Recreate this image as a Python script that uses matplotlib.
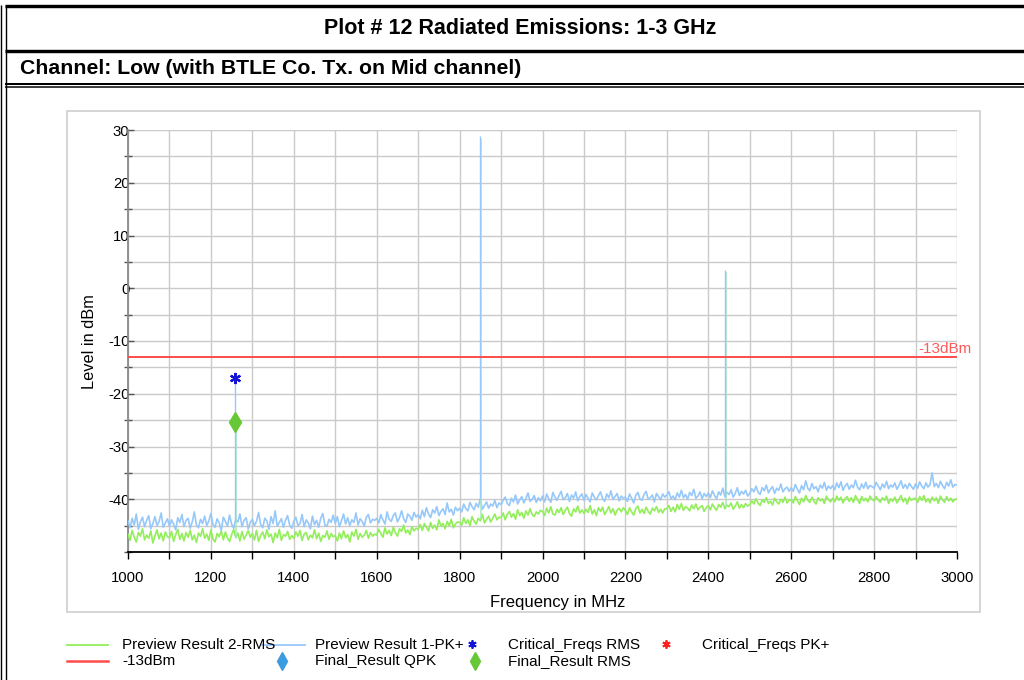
import numpy as np
import matplotlib
matplotlib.use('Agg')
import matplotlib.pyplot as plt
from matplotlib import font_manager
from matplotlib.patches import Rectangle
from matplotlib.ticker import MultipleLocator

# ---------------- data ----------------
title = "Plot # 12 Radiated Emissions: 1-3 GHz"
subtitle = "Channel: Low (with BTLE Co. Tx. on Mid channel)"
x_label = "Frequency in MHz"
y_label = "Level in dBm"
limit_label = "-13dBm"
limit_value = -13.0

freq_start, freq_stop, freq_step = 1000, 3000, 5

pk_values = [
    -44.1, -45.4, -43.6, -44.9, -42.8, -45.7, -44.3, -43.4, -45.2, -44.0, -43.1, -45.6, -44.6, -43.3, -45.0, -44.2, -42.6, -45.3, -44.5, -43.7,
    -45.1, -43.9, -44.7, -45.8, -43.5, -44.4, -42.9, -45.2, -44.0, -43.6, -45.5, -44.3, -42.4, -44.9, -45.4, -43.8, -44.6, -43.2, -45.0, -44.1,
    -42.7, -44.8, -45.3, -43.7, -44.5, -45.9, -43.4, -44.2, -45.1, -43.0, -44.7, -45.5, -43.9, -44.3, -42.8, -45.2, -44.0, -43.5, -45.6, -44.4,
    -43.8, -45.0, -44.2, -42.5, -44.8, -45.4, -43.6, -44.1, -45.7, -43.3, -44.6, -42.2, -45.1, -44.4, -43.7, -45.3, -44.0, -43.1, -44.9, -45.5,
    -44.2, -43.4, -45.0, -44.6, -42.9, -45.2, -43.9, -44.5, -45.6, -43.2, -44.8, -44.0, -45.3, -43.6, -42.7, -44.9, -45.1, -43.8, -44.4, -43.0,
    -44.6, -43.3, -45.2, -44.1, -42.8, -44.7, -43.5, -45.0, -43.9, -44.4, -42.6, -44.9, -43.7, -44.2, -45.1, -43.4, -42.9, -44.5, -43.8, -44.0,
    -43.6, -44.5, -42.9, -43.9, -44.7, -42.4, -43.8, -44.2, -43.1, -42.6, -44.3, -43.5, -42.2, -43.7, -44.4, -42.8, -43.2, -44.0, -42.5, -43.4,
    -42.9, -43.7, -42.1, -43.3, -41.6, -42.8, -43.5, -42.0, -42.6, -41.4, -43.1, -42.3, -41.8, -42.9, -40.7, -42.4, -41.9, -43.0, -41.5, -42.2,
    -41.7, -42.4, -40.9, -41.8, -42.2, -40.6, -41.4, -42.0, -40.8, -41.5, -39.9, -41.9, -41.2, -40.5, -41.7, -40.9, -41.3, -40.2, -41.6, -40.7,
    -41.0, -40.2, -39.6, -40.8, -41.2, -39.8, -40.5, -39.2, -40.9, -40.1, -39.5, -40.7, -39.9, -38.8, -40.4, -40.0, -39.3, -40.6, -39.7, -40.3,
    -39.4, -40.5, -39.0, -39.9, -40.6, -38.7, -39.6, -40.2, -39.3, -38.5, -40.1, -39.7, -38.9, -40.4, -39.2, -39.8, -38.6, -40.3, -39.5, -39.0,
    -40.2, -39.1, -39.8, -40.5, -38.8, -39.6, -40.1, -39.3, -38.6, -39.9, -40.4, -39.0, -39.7, -38.4, -40.0, -39.5, -38.9, -40.3, -39.4, -39.8,
    -39.6, -40.4, -39.0, -39.8, -40.7, -39.3, -38.7, -39.9, -40.2, -39.1, -38.5, -40.0, -39.7, -39.2, -40.5, -38.9, -39.5, -40.1, -39.0, -39.6,
    -39.2, -38.6, -39.9, -39.4, -40.1, -38.8, -39.6, -38.3, -39.7, -39.1, -40.0, -38.7, -39.3, -38.1, -39.8, -39.4, -38.6, -39.9, -38.9, -39.5,
    -38.8, -39.7, -38.4, -39.3, -39.9, -38.6, -39.2, -37.9, -39.5, -38.7, -39.1, -38.2, -39.6, -38.9, -37.8, -39.3, -38.5, -39.0, -38.3, -39.4,
    -38.9, -38.0, -38.6, -37.5, -38.7, -39.1, -37.8, -38.4, -37.3, -38.8, -38.1, -37.6, -38.9, -37.9, -38.3, -37.1, -38.6, -38.0, -37.7, -38.5,
    -37.8, -38.5, -37.2, -38.1, -38.8, -37.4, -38.2, -36.5, -37.9, -38.4, -37.0, -38.0, -37.6, -38.6, -37.3, -37.9, -36.8, -38.3, -37.5, -38.0,
    -37.4, -38.2, -36.9, -37.8, -36.7, -38.3, -37.5, -37.0, -38.1, -37.3, -37.8, -36.4, -37.7, -38.2, -37.1, -37.9, -36.8, -38.0, -37.4, -37.6,
    -37.9, -36.8, -37.5, -38.2, -37.1, -37.8, -36.6, -38.0, -37.3, -37.7, -36.9, -38.1, -37.4, -36.5, -37.9, -37.2, -38.0, -37.0, -37.6, -38.1,
    -37.1, -37.9, -36.7, -37.5, -38.0, -36.9, -37.7, -37.2, -35.0, -37.6, -37.0, -37.8, -36.6, -37.4, -38.0, -36.8, -37.5, -36.3, -37.7, -37.2,
    -37.3,
]

rms_values = [
    -46.6, -47.8, -45.9, -47.2, -48.1, -46.3, -47.0, -45.6, -47.7, -46.8, -47.4, -46.0, -48.3, -46.9, -45.8, -47.5, -46.4, -47.9, -46.2, -47.1,
    -47.3, -46.1, -48.0, -46.7, -45.7, -47.6, -46.5, -47.9, -46.3, -47.2, -45.9, -47.7, -46.8, -48.2, -46.4, -47.0, -45.6, -47.4, -46.6, -47.8,
    -45.8, -47.5, -48.1, -46.5, -47.1, -46.0, -47.7, -46.2, -47.4, -48.0, -46.7, -45.7, -47.3, -46.4, -47.9, -46.1, -47.6, -46.8, -45.9, -47.2,
    -46.5, -47.7, -45.9, -48.0, -46.9, -46.2, -47.5, -45.8, -47.1, -46.6, -48.2, -46.4, -47.3, -45.7, -47.8, -46.7, -47.0, -46.1, -47.6, -46.9,
    -47.4, -46.2, -47.0, -45.9, -47.8, -46.6, -46.3, -47.7, -46.8, -47.3, -45.8, -47.5, -46.4, -48.0, -46.9, -47.2, -46.0, -47.6, -46.5, -47.1,
    -46.9, -47.9, -46.4, -47.5, -46.0, -47.3, -46.7, -48.1, -46.2, -47.0, -45.7, -47.6, -46.5, -47.2, -46.8, -45.9, -47.4, -46.3, -47.0, -46.6,
    -46.8, -45.7, -46.5, -47.2, -45.4, -46.6, -45.9, -46.9, -45.3, -46.3, -47.0, -45.6, -46.1, -44.9, -46.4, -45.8, -46.7, -45.2, -46.0, -45.5,
    -45.7, -44.8, -45.9, -44.6, -45.3, -46.0, -44.4, -45.5, -44.9, -45.8, -43.9, -45.1, -44.6, -45.6, -44.2, -45.0, -43.8, -45.4, -44.7, -44.3,
    -44.4, -44.9, -43.5, -44.6, -43.9, -45.0, -43.3, -44.2, -44.7, -43.6, -44.1, -42.9, -44.5, -43.8, -43.2, -44.3, -43.6, -42.8, -43.9, -43.4,
    -43.5, -42.6, -43.9, -42.9, -42.3, -43.4, -42.7, -43.8, -42.0, -43.1, -42.5, -43.6, -42.2, -43.0, -41.8, -42.9, -43.3, -42.4, -42.8, -42.1,
    -42.3, -43.1, -41.7, -42.6, -41.4, -42.8, -43.0, -41.9, -42.5, -41.6, -42.9, -42.1, -41.5, -42.7, -43.2, -41.8, -42.4, -41.3, -42.6, -42.0,
    -42.7, -41.9, -42.5, -41.2, -42.8, -42.0, -43.1, -41.6, -42.3, -41.5, -42.9, -42.2, -41.4, -42.6, -41.8, -43.0, -42.1, -41.7, -42.4, -41.6,
    -42.1, -42.9, -41.6, -42.4, -43.0, -41.8, -41.3, -42.6, -41.9, -42.7, -41.5, -42.3, -42.8, -41.7, -42.2, -41.4, -42.5, -41.9, -42.6, -41.8,
    -41.8, -41.2, -42.3, -41.5, -42.4, -41.0, -41.9, -40.8, -42.1, -41.4, -41.7, -42.2, -41.1, -41.8, -40.9, -42.0, -41.5, -41.2, -42.3, -41.6,
    -41.2, -42.0, -40.9, -41.6, -42.1, -41.0, -41.5, -40.6, -41.8, -41.1, -41.4, -40.7, -41.9, -41.3, -40.5, -41.7, -41.0, -41.6, -40.8, -41.3,
    -41.0, -40.3, -40.9, -39.9, -40.7, -41.2, -40.1, -40.6, -39.7, -40.8, -40.4, -41.1, -39.8, -40.5, -40.9, -40.0, -40.6, -39.6, -40.7, -40.2,
    -40.1, -40.7, -39.5, -40.3, -41.0, -39.8, -40.5, -39.3, -40.2, -40.6, -39.6, -40.4, -40.9, -39.7, -40.3, -39.9, -40.8, -39.4, -40.1, -40.5,
    -39.8, -40.5, -39.4, -40.2, -39.6, -40.7, -39.9, -39.5, -40.4, -39.7, -40.6, -39.3, -40.1, -40.8, -39.5, -40.3, -39.8, -40.5, -39.4, -40.0,
    -40.3, -39.5, -40.1, -40.6, -39.7, -40.2, -39.4, -40.8, -39.9, -40.4, -39.6, -40.7, -40.0, -39.3, -40.5, -39.8, -40.9, -39.6, -40.2, -39.9,
    -39.8, -40.6, -39.5, -40.2, -39.3, -40.5, -39.9, -40.7, -39.6, -40.3, -39.7, -40.8, -39.4, -40.1, -40.6, -39.5, -40.3, -39.8, -40.5, -40.0,
    -40.0,
]

# narrow emission spikes
spike_freqs_pk = [1259, 1850, 2440]
spike_levels_pk = [-17.0, 28.8, 3.4]
spike_freqs_rms = [1260, 1852, 2442]
spike_levels_rms = [-25.3, 28.3, 3.0]

# markers
critical_rms_freq = [1259]
critical_rms_level = [-17.0]
final_rms_freq = [1259]
final_rms_level = [-25.3]

x_ticks = [1000, 1200, 1400, 1600, 1800, 2000, 2200, 2400, 2600, 2800, 3000]
y_ticks = [-40, -30, -20, -10, 0, 10, 20, 30]

legend_row1 = ["Preview Result 2-RMS", "Preview Result 1-PK+", "Critical_Freqs RMS", "Critical_Freqs PK+"]
legend_row2 = ["-13dBm", "Final_Result QPK", "Final_Result RMS"]

# ---------------- styling ----------------
C_RMS = '#92EE5A'
C_PK = '#96C8FA'
C_RED = '#FF4C4C'
C_GRID = '#CACACA'

names = {f.name for f in font_manager.fontManager.ttflist}
base_font = 'Liberation Sans' if 'Liberation Sans' in names else 'DejaVu Sans'
narrow_font = 'Liberation Sans Narrow' if 'Liberation Sans Narrow' in names else base_font
plt.rcParams['font.family'] = [base_font, 'DejaVu Sans']
plt.rcParams['axes.unicode_minus'] = False

W, H = 1024, 680
fig = plt.figure(figsize=(W / 100, H / 100), dpi=100)

def pxw(p):
    return p * 0.72

# overlay for frame / legend, in pixel coordinates
over = fig.add_axes([0, 0, 1, 1])
over.set_xlim(0, W)
over.set_ylim(H, 0)
over.axis('off')

k = dict(color='black', solid_capstyle='butt')
over.plot([5, W], [6.3, 6.3], lw=pxw(3.4), **k)
over.plot([5, W], [50.5, 50.5], lw=pxw(3.4), **k)
over.plot([5, W], [83.6, 83.6], lw=pxw(2.0), **k)
over.plot([5, W], [86.8, 86.8], lw=pxw(1.5), **k)
over.plot([1, 1], [4.5, H], lw=pxw(1.4), **k)
over.plot([5.5, 5.5], [4.5, H], lw=pxw(1.4), **k)

over.add_patch(Rectangle((67, 111), 913, 501, fill=False, ec='#d6d6d6', lw=pxw(2)))

fig.text(520 / W, 1 - 29 / H, title, ha='center', va='center', fontsize=15.5,
         weight='bold', family=[narrow_font, 'DejaVu Sans'])
fig.text(20 / W, 1 - 68.5 / H, subtitle, ha='left', va='center', fontsize=15.3,
         weight='bold', family=[narrow_font, 'DejaVu Sans'])

# ---------------- main axes ----------------
ax = fig.add_axes([128 / W, 1 - 552 / H, (957 - 128) / W, (552 - 130) / H])
freqs = np.arange(freq_start, freq_stop + 1, freq_step)
pk = np.array(pk_values)
rms = np.array(rms_values)
assert len(pk) == len(freqs) and len(rms) == len(freqs)

ax.set_xlim(freq_start, freq_stop)
ax.set_ylim(-50, 30)

ax.xaxis.set_major_locator(MultipleLocator(200))
ax.xaxis.set_minor_locator(MultipleLocator(100))
ax.yaxis.set_major_locator(MultipleLocator(10))
ax.yaxis.set_minor_locator(MultipleLocator(5))
ax.set_xticks(x_ticks)
ax.set_yticks(y_ticks)
ax.grid(True, which='both', color=C_GRID, lw=1.0, zorder=0)
ax.set_axisbelow(True)

for s in ['top', 'right']:
    ax.spines[s].set_visible(False)
ax.spines['left'].set_color('#8a8a8a')
ax.spines['left'].set_linewidth(1.3)
ax.spines['bottom'].set_color('black')
ax.spines['bottom'].set_linewidth(1.3)

ax.tick_params(axis='x', which='both', direction='out', length=5, width=1, color='black',
               labelsize=10.7, pad=9)
ax.tick_params(axis='y', which='major', direction='in', length=4, width=1, color='#555555',
               labelsize=10.7, pad=-1)
ax.tick_params(axis='y', which='minor', direction='inout', length=6, width=1, color='#555555')

ax.plot(freqs, rms, color=C_RMS, lw=1.2, zorder=3)
ax.plot(freqs, pk, color=C_PK, lw=1.2, zorder=4)

ax.vlines(spike_freqs_rms, np.interp(spike_freqs_rms, freqs, rms), spike_levels_rms,
          color='#A6E8C0', lw=1.1, zorder=5)
ax.vlines(spike_freqs_pk, np.interp(spike_freqs_pk, freqs, pk), spike_levels_pk,
          color=C_PK, lw=1.0, zorder=5)

ax.axhline(limit_value, color=C_RED, lw=1.4, zorder=6)
limit_x = freq_start + (972 - 128) / (957 - 128) * (freq_stop - freq_start)
ax.text(limit_x, limit_value + 0.2, limit_label, color='#FF5A5A', fontsize=11,
        ha='right', va='bottom', clip_on=False)

ax.plot(critical_rms_freq, critical_rms_level, ls='none', marker=(6, 2, 0), ms=8, mew=1.6,
        color='#1414D8', zorder=7)
ax.plot(final_rms_freq, final_rms_level, ls='none', marker='d', ms=10, color='#66C836',
        zorder=7)

fig.text(558 / W, 1 - 603 / H, x_label, ha='center', va='center', fontsize=12)
fig.text(90 / W, 1 - 342 / H, y_label, ha='center', va='center', fontsize=11.8, rotation=90)

# ---------------- legend ----------------
r1, r2 = 645, 661
fs = 11
over.plot([67, 108], [r1, r1], color=C_RMS, lw=1.3)
over.text(122, r1, legend_row1[0], va='center', fontsize=fs)
over.plot([262, 305], [r1, r1], color=C_PK, lw=1.3)
over.text(315, r1, legend_row1[1], va='center', fontsize=fs)
over.plot([472], [r1 - 1.5], ls='none', marker=(6, 2, 0), ms=6, mew=1.3, color='#1414D8')
over.text(508, r1, legend_row1[2], va='center', fontsize=fs)
over.plot([666], [r1 - 1.5], ls='none', marker=(6, 2, 0), ms=6, mew=1.3, color='#FF2020')
over.text(702, r1, legend_row1[3], va='center', fontsize=fs)

over.plot([67, 108], [r2, r2], color=C_RED, lw=1.8)
over.text(122, r2, legend_row2[0], va='center', fontsize=fs)
over.plot([282], [r2], ls='none', marker='d', ms=9, color='#3C9CE0')
over.text(315, r2, legend_row2[1], va='center', fontsize=fs)
over.plot([475], [r2], ls='none', marker='d', ms=9, color='#66C836')
over.text(508, r2, legend_row2[2], va='center', fontsize=fs)

fig.savefig('out.png', dpi=100)
